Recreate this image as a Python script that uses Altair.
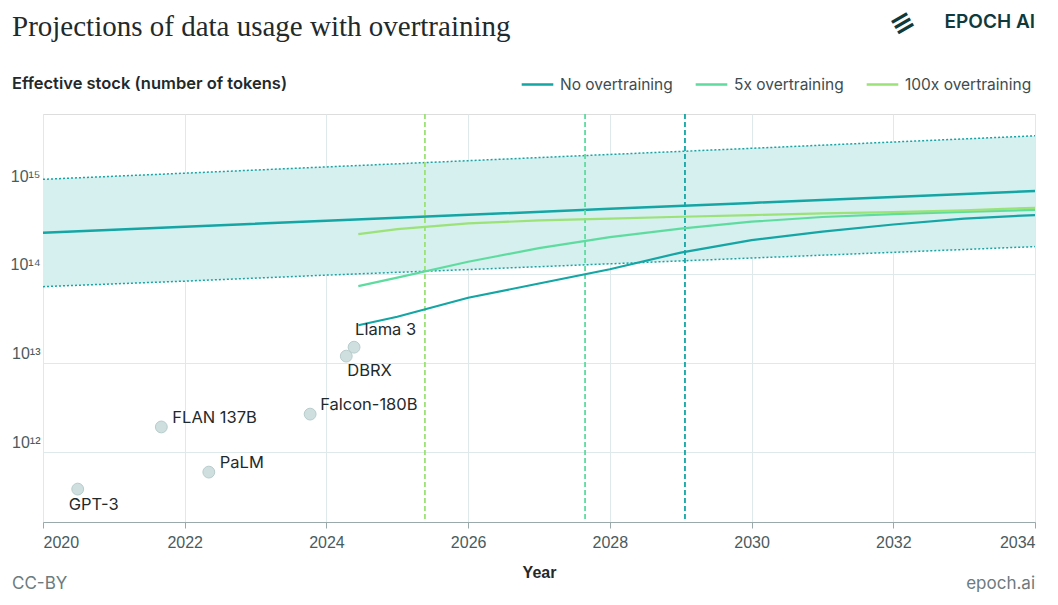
import altair as alt
import pandas as pd

# ---------------- data ----------------
band_years = [2020, 2022, 2024, 2026, 2028, 2030, 2032, 2034]
stock_lower = [7.2e13, 8.3e13, 9.7e13, 1.12e14, 1.30e14, 1.51e14, 1.75e14, 2.03e14]
stock_median = [2.91e14, 3.40e14, 3.96e14, 4.62e14, 5.40e14, 6.30e14, 7.35e14, 8.57e14]
stock_upper = [1.16e15, 1.36e15, 1.60e15, 1.88e15, 2.21e15, 2.59e15, 3.05e15, 3.58e15]

proj_years = [2024.45, 2025, 2026, 2027, 2028, 2029, 2030, 2031, 2032, 2033, 2034]
no_overtraining = [2.65e13, 3.3e13, 5.4e13, 7.8e13, 1.13e14, 1.74e14, 2.4e14, 3.0e14, 3.6e14, 4.2e14, 4.6e14]
x5_overtraining = [7.3e13, 9.1e13, 1.37e14, 1.95e14, 2.6e14, 3.24e14, 3.87e14, 4.37e14, 4.7e14, 5.0e14, 5.25e14]
x100_overtraining = [2.8e14, 3.2e14, 3.7e14, 4.0e14, 4.2e14, 4.4e14, 4.6e14, 4.8e14, 4.95e14, 5.2e14, 5.55e14]

series_names = ["No overtraining", "5x overtraining", "100x overtraining"]
series_colors = ["#14a5a5", "#5edca0", "#9be277"]
cutoff_years = [2029.06, 2027.65, 2025.39]

model_names = ["GPT-3", "FLAN 137B", "PaLM", "Falcon-180B", "DBRX", "Llama 3"]
model_years = [2020.49, 2021.67, 2022.34, 2023.77, 2024.28, 2024.39]
model_tokens = [3.8e11, 1.9e12, 5.9e11, 2.65e12, 1.19e13, 1.5e13]

# ---------------- tables ----------------
band_df = pd.DataFrame({"year": band_years, "lower": stock_lower,
                        "median": stock_median, "upper": stock_upper})
proj_rows = []
for name, vals in zip(series_names, [no_overtraining, x5_overtraining, x100_overtraining]):
    for yr, v in zip(proj_years, vals):
        proj_rows.append({"year": yr, "tokens": v, "series": name})
proj_df = pd.DataFrame(proj_rows)
cut_df = pd.DataFrame({"year": cutoff_years, "series": series_names})
models_df = pd.DataFrame({"name": model_names, "year": model_years, "tokens": model_tokens})

FONT = "Inter"
TEAL = "#14a5a5"

x_scale = alt.Scale(domain=[2020, 2034], nice=False, zero=False)
y_scale = alt.Scale(type="log", domain=[1.62e11, 6.3e15], nice=False)
color_scale = alt.Scale(domain=series_names, range=series_colors)

label_expr = ("datum.value == 1e12 ? '10¹²' : datum.value == 1e13 ? '10¹³' : "
              "datum.value == 1e14 ? '10¹⁴' : datum.value == 1e15 ? '10¹⁵' : ''")

x_axis = alt.Axis(values=list(range(2020, 2035, 2)), format="d", title="Year",
                  labelFontSize=16, labelColor="#4a5b5e", labelPadding=6,
                  titleFontSize=16, titleFontWeight=600, titleColor="#1f2a2c",
                  titlePadding=14, tickColor="#9aa9ac", tickSize=6,
                  domainColor="#9aa9ac", gridColor="#dde9ea")
y_axis = alt.Axis(values=[1e12, 1e13, 1e14, 1e15], labelExpr=label_expr, title=None,
                  labelFontSize=16, labelColor="#4a5b5e", labelPadding=3, labelOffset=-9,
                  tickColor="#9aa9ac", tickSize=0, domain=False, gridColor="#dde9ea")

base_x = alt.X("year:Q", scale=x_scale, axis=x_axis)

band = alt.Chart(band_df).mark_area(color="#d6efef", opacity=1).encode(
    x=base_x,
    y=alt.Y("lower:Q", scale=y_scale, axis=y_axis),
    y2="upper:Q",
)
lower_line = alt.Chart(band_df).mark_line(color=TEAL, strokeDash=[2, 2], strokeWidth=1.5).encode(
    x="year:Q", y="lower:Q")
upper_line = alt.Chart(band_df).mark_line(color=TEAL, strokeDash=[2, 2], strokeWidth=1.5).encode(
    x="year:Q", y="upper:Q")
median_line = alt.Chart(band_df).mark_line(color=TEAL, strokeWidth=2.5).encode(
    x="year:Q", y="median:Q")

legend = alt.Legend(title=None, orient="none", legendX=477, legendY=-47,
                    direction="horizontal", symbolType="stroke",
                    symbolSize=1000, symbolStrokeWidth=2.5, symbolDash=[1, 0],
                    labelFontSize=15.5, labelFont=FONT, labelColor="#3d4c4f",
                    labelOffset=5, columnPadding=17)

cutoffs = alt.Chart(cut_df).mark_rule(strokeDash=[5, 3], strokeWidth=1.8).encode(
    x="year:Q",
    color=alt.Color("series:N", scale=color_scale, sort=series_names, legend=legend),
)

proj = alt.Chart(proj_df).mark_line(strokeWidth=2.2).encode(
    x="year:Q",
    y="tokens:Q",
    color=alt.Color("series:N", scale=color_scale, sort=series_names, legend=legend),
    detail="series:N",
)

points = alt.Chart(models_df).mark_circle(size=140, color="#cfdfdf", opacity=1,
                                          stroke="#b8cccc", strokeWidth=1).encode(
    x="year:Q", y="tokens:Q")

label_offsets = {
    "GPT-3": (-9, 16), "FLAN 137B": (11, -9), "PaLM": (11, -9),
    "Falcon-180B": (10, -9), "DBRX": (1, 15), "Llama 3": (1, -17),
}
label_layers = []
for nm in model_names:
    dx, dy = label_offsets[nm]
    label_layers.append(
        alt.Chart(models_df).transform_filter(alt.datum.name == nm)
        .mark_text(align="left", baseline="middle", dx=dx, dy=dy, fontSize=16.5,
                   font=FONT, color="#1f2a2c")
        .encode(x="year:Q", y="tokens:Q", text="name:N")
    )

def deco(text, x, y, **kw):
    return alt.Chart(pd.DataFrame({"t": [text]})).mark_text(**kw).encode(
        x=alt.value(x), y=alt.value(y), text="t:N")

title = deco("Projections of data usage with overtraining", -31, -78,
             align="left", baseline="alphabetic", font="Liberation Serif",
             fontSize=29, color="#1f2a2c")
ytitle = deco("Effective stock (number of tokens)", -31, -30, align="left",
              baseline="middle", font=FONT, fontSize=16.5, fontWeight=600, color="#1f2a2c")
logo_text = deco("EPOCH AI", 992, -92, align="right", baseline="middle",
                 font=FONT, fontSize=19, fontWeight=600, color="#0f3a3c")
logo_mark = deco("≡", 860, -90, align="center", baseline="middle",
                 font="DejaVu Sans", fontSize=28, fontWeight="bold", angle=330, color="#0f3a3c")
foot_l = deco("CC-BY", -31, 475, align="left", baseline="alphabetic",
              font=FONT, fontSize=17, color="#6b7b7e")
foot_r = deco("epoch.ai", 992, 475, align="right", baseline="alphabetic",
              font=FONT, fontSize=17, color="#6b7b7e")

chart = alt.layer(
    band, lower_line, upper_line, median_line, cutoffs, proj, points, *label_layers,
    title, ytitle, logo_text, logo_mark, foot_l, foot_r,
).properties(
    width=992, height=408,
    autosize=alt.AutoSizeParams(type="none"),
    padding={"left": 35, "top": 106, "right": 12, "bottom": 70},
).configure_view(
    stroke="#a9b6b9", strokeWidth=1.2
).configure_axis(
    labelFont=FONT, titleFont=FONT
).configure(background="white")

chart.save("out.html", embed_options={"renderer": "svg", "actions": False})
